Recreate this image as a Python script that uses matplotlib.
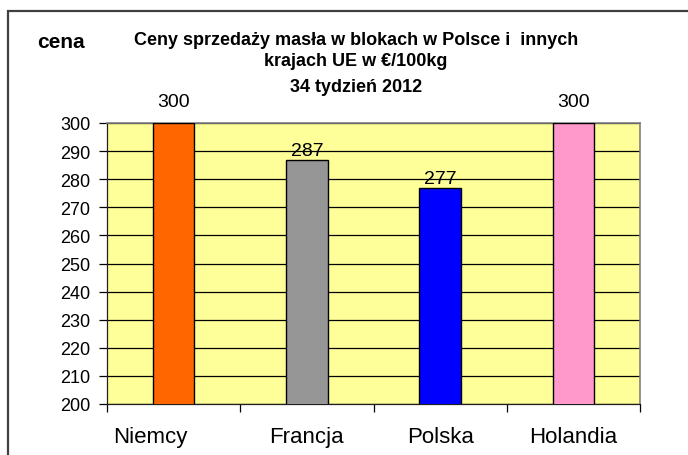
import matplotlib
matplotlib.use("Agg")
import matplotlib.pyplot as plt
from matplotlib.patches import Rectangle
from matplotlib.transforms import ScaledTranslation
import numpy as np

categories = ["Niemcy", "Francja", "Polska", "Holandia"]
values = [300, 287, 277, 300]
colors = ["#FF6600", "#969696", "#0000FF", "#FF99CC"]
y_ticks = list(range(200, 301, 10))
title = "Ceny sprzedaży masła w blokach w Polsce i  innych\nkrajach UE w €/100kg"
subtitle = "34 tydzień 2012"
ylabel = "cena"

plt.rcParams['font.family'] = ['Liberation Sans', 'DejaVu Sans']
dpi = 100
fig = plt.figure(figsize=(6.88, 4.56), dpi=dpi)
fig.patch.set_facecolor("white")

L, R, T, B = 107, 640, 124, 405
W, H = 688, 456
ax = fig.add_axes([L / W, 1 - B / H, (R - L) / W, (B - T) / H])
ax.set_facecolor("#FFFF99")

x = np.arange(len(categories))
ax.bar(x, values, width=0.31, bottom=0, color=colors, edgecolor="black", linewidth=1.0, zorder=3)
ax.set_ylim(200, 300)
ax.set_xlim(-0.5, len(categories) - 0.5)
ax.set_yticks(y_ticks)
ax.set_yticklabels([str(t) for t in y_ticks], fontsize=13)
ax.yaxis.grid(True, color="black", linewidth=0.9, zorder=1)
ax.set_axisbelow(True)

ax.set_xticks(np.arange(len(categories) + 1) - 0.5)
ax.set_xticklabels([])
ax.set_xticks(x, minor=True)
ax.set_xticklabels(categories, minor=True, fontsize=16)
ax.tick_params(axis='x', which='minor', length=0, pad=16)
ax.tick_params(axis='x', which='major', length=6, width=0.9, direction='out')
ax.tick_params(axis='y', length=6, width=0.9, direction='out', pad=6)

# the first category label sits left of its bar in the reference
first = ax.xaxis.get_minor_ticks()[0].label1
first.set_transform(first.get_transform() + ScaledTranslation(-0.23, 0, fig.dpi_scale_trans))

for s in ["top", "right"]:
    ax.spines[s].set_color("#808080")
    ax.spines[s].set_linewidth(1.2)
for s in ["left", "bottom"]:
    ax.spines[s].set_color("#202020")
    ax.spines[s].set_linewidth(0.9)

for xi, v in zip(x, values):
    off = 9.5 if v >= 300 else 0.5
    ax.annotate(str(v), (xi, v), xytext=(0, off), textcoords="offset points",
                ha="center", va="bottom", fontsize=14, annotation_clip=False)

fig.text(356 / W, 1 - 51 / H, title, ha="center", va="center", fontsize=13,
         fontweight="bold", linespacing=1.25)
fig.text(356 / W, 1 - 87 / H, subtitle, ha="center", va="center", fontsize=13,
         fontweight="bold")
fig.text(37 / W, 1 - 43 / H, ylabel, ha="left", va="center", fontsize=15, fontweight="bold")

fig.patches.append(Rectangle((8 / W, -0.1), 1.2, 1.1 - 12 / H, transform=fig.transFigure,
                             fill=False, edgecolor="#404040", linewidth=1.6))

fig.savefig("out.png", dpi=dpi)
